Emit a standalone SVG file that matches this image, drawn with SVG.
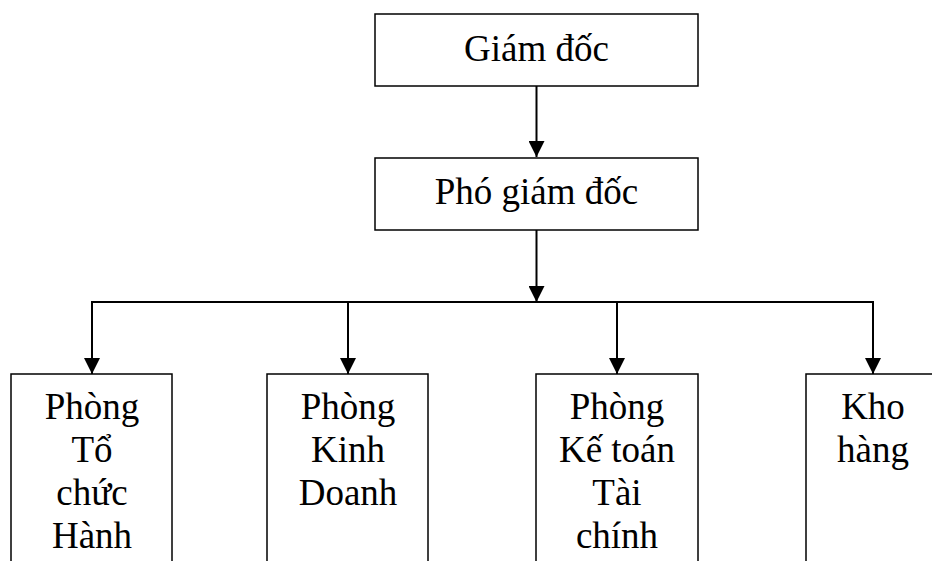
<svg xmlns="http://www.w3.org/2000/svg" width="932" height="561" viewBox="0 0 932 561">
<style>
.box{fill:#fff;stroke:#000;stroke-width:1.5}
.lbl{font-family:"Liberation Serif","Times New Roman",serif;font-size:37px;fill:#000;text-anchor:middle}
.con{fill:none;stroke:#000;stroke-width:2}
</style>
<defs>
<marker id="ah" markerUnits="userSpaceOnUse" markerWidth="16" markerHeight="16" viewBox="0 0 16 16" refX="16" refY="8" orient="auto">
<path d="M0,0 L16,8 L0,16 Z" fill="#000"/>
</marker>
</defs>
<rect width="932" height="561" fill="#fff"/>
<g id="connectors">
<line class="con" x1="536.5" y1="86" x2="536.5" y2="157" marker-end="url(#ah)"/>
<line class="con" x1="536.5" y1="230" x2="536.5" y2="302" marker-end="url(#ah)"/>
<polyline class="con" points="92,373 92,302 873,302 873,373"/>
<line class="con" x1="92" y1="302" x2="92" y2="374" marker-end="url(#ah)"/>
<line class="con" x1="348" y1="302" x2="348" y2="374" marker-end="url(#ah)"/>
<line class="con" x1="617" y1="302" x2="617" y2="374" marker-end="url(#ah)"/>
<line class="con" x1="873" y1="302" x2="873" y2="374" marker-end="url(#ah)"/>
</g>
<g id="giam-doc">
<rect class="box" x="375" y="14" width="323" height="72"/>
<text class="lbl" x="536.5" y="61">Giám đốc</text>
</g>
<g id="pho-giam-doc">
<rect class="box" x="375" y="158" width="323" height="72"/>
<text class="lbl" x="536.5" y="204">Phó giám đốc</text>
</g>
<g id="phong-to-chuc">
<rect class="box" x="11" y="374" width="161" height="230"/>
<text class="lbl" x="92"><tspan x="92" y="419">Phòng</tspan><tspan x="92" y="462">Tổ</tspan><tspan x="92" y="505">chức</tspan><tspan x="92" y="548">Hành</tspan></text>
</g>
<g id="phong-kinh-doanh">
<rect class="box" x="267" y="374" width="161" height="230"/>
<text class="lbl" x="348"><tspan x="348" y="419">Phòng</tspan><tspan x="348" y="462">Kinh</tspan><tspan x="348" y="505">Doanh</tspan></text>
</g>
<g id="phong-ke-toan">
<rect class="box" x="536" y="374" width="162" height="230"/>
<text class="lbl" x="617"><tspan x="617" y="419">Phòng</tspan><tspan x="617" y="462">Kế toán</tspan><tspan x="617" y="505">Tài</tspan><tspan x="617" y="548">chính</tspan></text>
</g>
<g id="kho-hang">
<rect class="box" x="806" y="374" width="161" height="230"/>
<text class="lbl" x="873"><tspan x="873" y="419">Kho</tspan><tspan x="873" y="462">hàng</tspan></text>
</g>
</svg>
